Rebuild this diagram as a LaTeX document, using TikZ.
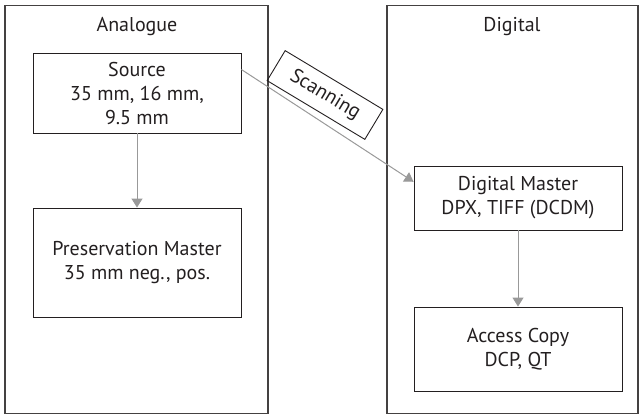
\documentclass[tikz,border=0pt]{standalone}
\usepackage{fontspec}
\setmainfont{PT Sans}
\usetikzlibrary{arrows.meta,calc}
\definecolor{ink}{HTML}{231F20}
\definecolor{flow}{HTML}{999999}
\begin{document}
\begin{tikzpicture}[x=1pt,y=-1pt,
  txt/.style={font=\fontsize{20}{24}\selectfont, text=ink, align=center, inner sep=0pt},
  panel/.style={draw=ink!85, line width=1.2pt, inner sep=0pt},
  stagebox/.style={txt, draw=ink, line width=0.9pt, minimum width=208pt},
  flowarrow/.style={draw=flow, line width=1pt, -{Triangle[length=9pt,width=11pt]}}]
  \useasboundingbox (0,0) rectangle (643,418);
  % panels
  \node[panel, minimum width=263pt, minimum height=408pt] (ana) at (136.5,209.5) {};
  \node[panel, minimum width=251pt, minimum height=408pt] (dig) at (512.5,209.5) {};
  \node[txt] (anat) at (137,27) {Analogue};
  \node[txt] (digt) at (512,27) {Digital};
  % stages
  \node[stagebox, minimum height=80pt] (src) at (137,93) {Source\\35 mm, 16 mm,\\9.5 mm};
  \node[stagebox, minimum height=109pt] (pres) at (137,262.5) {Preservation Master\\35 mm neg., pos.};
  \node[stagebox, minimum height=64pt] (dm) at (518,198) {Digital Master\\DPX, TIFF (DCDM)};
  \node[stagebox, minimum height=84pt] (acc) at (518,349) {Access Copy\\DCP, QT};
  % flows
  \draw[flowarrow] (src) -- (pres);
  \draw[flowarrow] (dm) -- (acc);
  \coordinate (scanA) at ($(src.north east)!0.21!(src.south east)$);
  \coordinate (scanB) at ($(dm.north west)!0.25!(dm.south west)$);
  \draw[flowarrow] (scanA) -- (scanB);
  \node[txt, draw=ink, line width=0.9pt, minimum width=114pt, minimum height=35pt, rotate=-31] (scan) at (325,95) {Scanning};
\end{tikzpicture}
\end{document}
